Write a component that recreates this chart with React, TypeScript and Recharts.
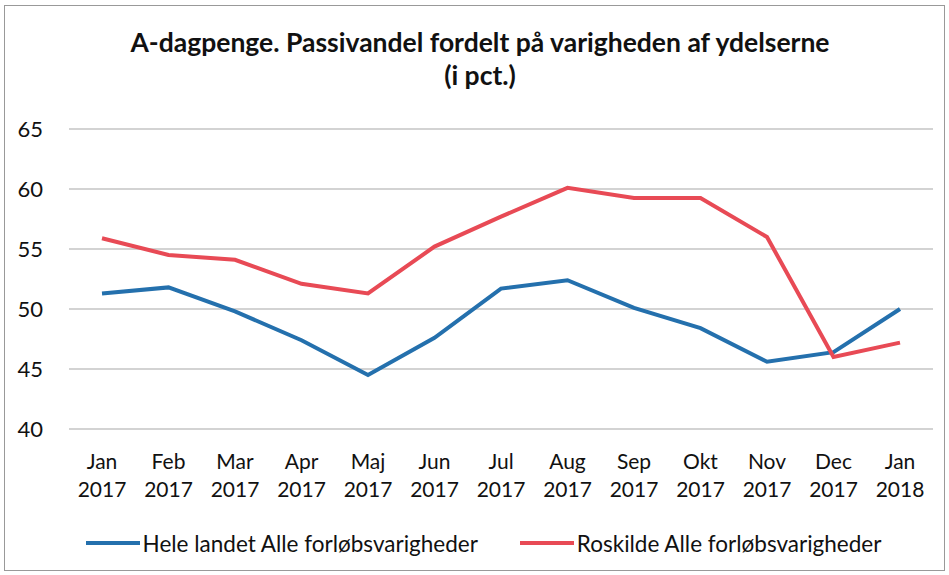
import { LineChart, Line, XAxis, YAxis, CartesianGrid, Legend } from 'recharts';

const FONT = 'Lato, "Noto Sans", sans-serif';

const months = ['Jan', 'Feb', 'Mar', 'Apr', 'Maj', 'Jun', 'Jul', 'Aug', 'Sep', 'Okt', 'Nov', 'Dec', 'Jan'];
const years = ['2017', '2017', '2017', '2017', '2017', '2017', '2017', '2017', '2017', '2017', '2017', '2017', '2018'];
const heleLandet = [51.3, 51.8, 49.8, 47.4, 44.5, 47.6, 51.7, 52.4, 50.1, 48.4, 45.6, 46.4, 50.0];
const roskilde = [55.9, 54.5, 54.1, 52.1, 51.3, 55.2, 57.7, 60.1, 59.25, 59.25, 56.0, 46.0, 47.2];
const yTicks = [40, 45, 50, 55, 60, 65];

const BLUE = '#2470ad';
const RED = '#e84a55';

const data = months.map((m, i) => ({
  label: `${m}|${years[i]}`,
  hele: heleLandet[i],
  roskilde: roskilde[i],
}));

function MonthTick(props: any) {
  const { x, y, payload } = props;
  const [m, yr] = String(payload.value).split('|');
  return (
    <text x={x} y={y} textAnchor="middle" fill="#111" fontSize={21} fontFamily={FONT}>
      <tspan x={x} dy={32}>{m}</tspan>
      <tspan x={x} dy={28}>{yr}</tspan>
    </text>
  );
}

function LegendContent() {
  const items = [
    { name: 'Hele landet Alle forløbsvarigheder', color: BLUE },
    { name: 'Roskilde Alle forløbsvarigheder', color: RED },
  ];
  return (
    <div style={{ display: 'flex', justifyContent: 'center', gap: 42, height: 26, fontFamily: FONT, fontSize: 22.5, color: '#111', paddingLeft: 18 }}>
      {items.map(it => (
        <div key={it.name} style={{ display: 'flex', alignItems: 'center' }}>
          <span style={{ display: 'inline-block', width: 54, height: 4, background: it.color, marginRight: 3 }} />
          <span>{it.name}</span>
        </div>
      ))}
    </div>
  );
}

export default function App() {
  return (
    <div style={{ position: 'absolute', left: 0, top: 0, width: 949, height: 575, background: '#fff' }}>
      <div style={{ position: 'absolute', left: 4, top: 5, width: 941, height: 566, border: '1.5px solid #999', boxSizing: 'border-box' }} />
      <div style={{ position: 'absolute', left: 0, top: 26, width: 960, textAlign: 'center', fontFamily: FONT, fontWeight: 'bold', fontSize: 26.5, lineHeight: '33px', color: '#111' }}>
        A-dagpenge. Passivandel fordelt på varigheden af ydelserne<br />(i pct.)
      </div>
      <LineChart width={949} height={575} data={data} margin={{ top: 129, right: 16, bottom: 40, left: 8 }} style={{ position: 'absolute', left: 0, top: 0 }}>
        <CartesianGrid vertical={false} stroke="#a8a8a8" strokeWidth={1.2} />
        <XAxis dataKey="label" axisLine={false} tickLine={false} interval={0} tick={<MonthTick />} height={80} padding={{ left: 33, right: 33 }} />
        <YAxis domain={[40, 65]} ticks={yTicks} axisLine={false} tickLine={false} width={61} tickMargin={20}
          tick={{ fontSize: 22, fill: '#111', fontFamily: FONT }} />
        <Legend verticalAlign="bottom" wrapperStyle={{ left: 0, width: 949, top: 530 }} content={<LegendContent />} />
        <Line type="linear" dataKey="hele" stroke={BLUE} strokeWidth={4} dot={false} isAnimationActive={false} />
        <Line type="linear" dataKey="roskilde" stroke={RED} strokeWidth={4} dot={false} isAnimationActive={false} />
      </LineChart>
    </div>
  );
}
